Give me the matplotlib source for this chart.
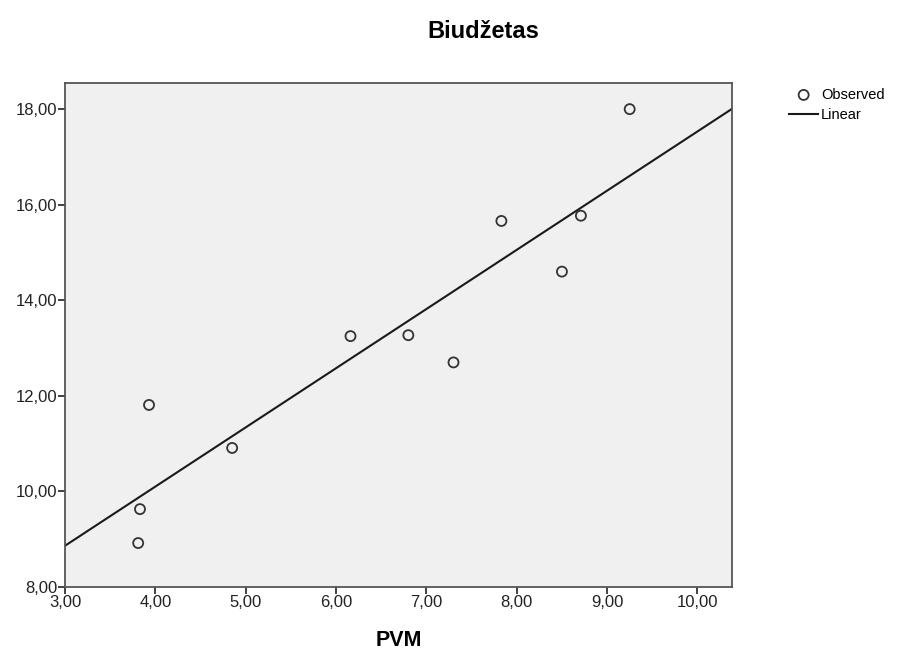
import numpy as np
import matplotlib
matplotlib.use("Agg")
import matplotlib.pyplot as plt
from matplotlib.ticker import FuncFormatter

plt.rcParams['font.family'] = ['Liberation Sans', 'DejaVu Sans']

# Duomenys nuskaityti nuo paveikslo
pvm = [3.93, 4.85, 3.83, 3.81, 6.16, 6.80, 7.30, 7.83, 8.50, 8.71, 9.25]
biudzetas = [11.81, 10.91, 9.63, 8.92, 13.25, 13.27, 12.70, 15.66, 14.60, 15.77, 18.00]
x_ticks = [3, 4, 5, 6, 7, 8, 9, 10]
y_ticks = [8, 10, 12, 14, 16, 18]

fig = plt.figure(figsize=(8.99, 6.5), dpi=100)
ax = fig.add_axes([0.0723, 0.0969, 0.7417, 0.7749])
ax.set_facecolor('#F0F0F0')

# Tiesinė regresija
k, b = np.polyfit(pvm, biudzetas, 1)
xl = np.array([3.0, 10.38])
ax.plot(xl, k * xl + b, color='#1a1a1a', linewidth=1.5, label='Linear', zorder=2)

ax.scatter(pvm, biudzetas, s=52, facecolors='none', edgecolors='#333333',
           linewidths=1.3, label='Observed', zorder=3)

ax.set_xlim(3.0, 10.38)
ax.set_ylim(8.0, 18.54)
ax.set_xticks(x_ticks)
ax.set_yticks(y_ticks)
fmt = FuncFormatter(lambda v, p: f"{v:.2f}".replace('.', ','))
ax.xaxis.set_major_formatter(fmt)
ax.yaxis.set_major_formatter(fmt)
ax.tick_params(direction='out', length=5, width=1.3, color='#333333',
               labelsize=12, labelcolor='#222222', pad=0.5)
for s in ax.spines.values():
    s.set_color('#555555')
    s.set_linewidth(1.3)

ax.set_xlabel('PVM', fontsize=15.5, fontweight='bold', labelpad=15)
fig.text(0.538, 0.951, 'Biudžetas', ha='center', va='center', fontsize=17, fontweight='bold')

h, l = ax.get_legend_handles_labels()
ax.legend(h[::-1], l[::-1], loc='upper left', bbox_to_anchor=(0.8777, 0.865),
          bbox_transform=fig.transFigure, frameon=False, fontsize=10.5,
          handlelength=2.0, handletextpad=0.2, labelspacing=0.42,
          borderaxespad=0, borderpad=0)

fig.savefig('out.png', dpi=100)
